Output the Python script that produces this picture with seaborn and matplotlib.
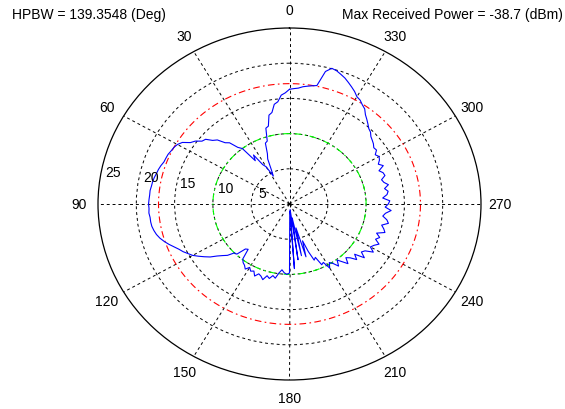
import numpy as np
import matplotlib
matplotlib.use("Agg")
import matplotlib.pyplot as plt
import seaborn as sns

# measured pattern: angle in degrees (counter-clockwise from top), radius in dB
angles = np.arange(0, 360, 2)
radius = [
    16.3, 15.8, 15.5, 14.6, 14.3, 13.2, 12.9, 11.4, 11.2, 9.4,      # 0-18
    9.2, 7.7, 7.0, 5.4, 4.5, 6.1, 6.6, 8.4, 7.6, 10.0,              # 20-38
    10.5, 11.7, 12.1, 13.1, 13.5, 14.3, 14.5, 15.2, 15.6, 16.5,     # 40-58
    16.9, 17.1, 17.2, 17.35, 17.4, 17.45, 17.65, 17.8, 17.9, 18.05,  # 60-78
    18.15, 18.2, 18.3, 18.3, 18.35, 18.4, 18.35, 18.4, 18.3, 18.3,   # 80-98
    18.25, 18.1, 17.9, 17.6, 17.2, 16.75, 16.25, 15.8, 15.45, 15.0,  # 100-118
    14.6, 14.0, 13.4, 12.8, 12.0, 11.4, 10.9, 10.0, 9.9, 8.6,       # 120-138
    8.4, 9.9, 10.3, 10.5, 10.9, 10.4, 10.8, 10.6, 11.2, 10.7,       # 140-158
    10.9, 11.3, 10.6, 10.9, 10.4, 10.7, 9.9, 9.4, 9.8, 10.0,        # 160-178
    9.8, 1.0, 9.2, 0.8, 8.0, 2.0, 7.5, 3.5, 7.8, 5.5,               # 180-198
    7.2, 8.6, 8.3, 9.6, 9.4, 10.5, 9.8, 10.2, 10.9, 10.1,           # 200-218
    10.7, 11.4, 10.6, 11.0, 11.8, 11.1, 12.4, 11.6, 11.9, 12.9,     # 220-238
    12.2, 12.5, 13.0, 12.3, 12.7, 12.1, 13.1, 12.8, 12.4, 13.2,     # 240-258
    12.9, 12.3, 12.6, 13.3, 12.5, 12.9, 13.1, 12.2, 12.8, 13.0,     # 260-278
    12.6, 13.2, 12.7, 12.5, 13.1, 13.0, 12.6, 13.4, 12.9, 13.3,     # 280-298
    13.5, 13.2, 13.7, 13.6, 13.9, 14.1, 14.3, 14.7, 14.9, 15.3,     # 300-318
    15.7, 16.1, 16.7, 17.0, 17.4, 17.6, 18.1, 18.5, 18.9, 19.3,     # 320-338
    19.6, 19.9, 20.05, 19.4, 17.2, 17.05, 16.9, 16.75, 16.5, 16.4,  # 340-358
]

ring_values = [5, 10, 15, 20]
r_max = 25
spoke_angles = [0, 30, 60, 90, 120, 150, 180, 210, 240, 270, 300, 330]
half_power_level = 17.1
ref_level = 10.0

hpbw_text = "HPBW = 139.3548 (Deg)"
power_text = "Max Received Power = -38.7 (dBm)"

sns.set_style("white")
plt.rcParams['font.family'] = ['Liberation Sans', 'DejaVu Sans']
plt.rcParams['font.size'] = 10
plt.rcParams['text.color'] = 'black'

fig = plt.figure(figsize=(5.65, 4.10), dpi=100)
ax = fig.add_axes([98/565, 29/410, 383/565, 352/410], projection='polar')
ax.set_aspect('auto')
ax.set_theta_zero_location('N')
ax.set_theta_direction(1)
ax.set_ylim(0, r_max)

ax.set_xticks(np.deg2rad(spoke_angles))
ax.set_xticklabels([])
ax.set_yticks(ring_values)
ax.set_yticklabels([])
ax.tick_params(length=0)
ax.grid(True, color='black', lw=0.7, linestyle=(0, (3, 3)))
ax.spines['polar'].set_color('black')
ax.spines['polar'].set_linewidth(0.9)

# reference circles (-3 dB and -10 dB)
circle = np.linspace(0, 2*np.pi, 361)
sns.lineplot(x=circle, y=np.full(circle.size, half_power_level), ax=ax,
             color='#FF0000', lw=0.8, linestyle=(0, (6, 3, 1.5, 3)),
             sort=False, estimator=None)
sns.lineplot(x=circle, y=np.full(circle.size, ref_level), ax=ax,
             color='#00FF00', lw=0.8, linestyle=(0, (6, 3, 1.5, 3)),
             sort=False, estimator=None)

# measured pattern
theta = np.deg2rad(np.append(angles, 360))
r = np.array(radius + [radius[0]])
sns.lineplot(x=theta, y=r, ax=ax, color='#0000FF', lw=0.8,
             sort=False, estimator=None)
ax.set_xlabel('')
ax.set_ylabel('')

# angle labels outside the circle
for a in spoke_angles:
    ax.text(np.deg2rad(a), r_max * 1.1, str(a), ha='center', va='center', fontsize=10)

# radial labels, MATLAB style along the upper-left
for rv in ring_values + [r_max]:
    lx = -0.975 * rv + 1.375
    ly = 0.145 * rv + 0.875
    ax.text(np.arctan2(-lx, ly), np.hypot(lx, ly), str(rv),
            ha='center', va='center', fontsize=10)

fig.text(12/565, 1 - 15/410, hpbw_text, ha='left', va='center', fontsize=10)
fig.text(563/565, 1 - 15/410, power_text, ha='right', va='center', fontsize=10)

fig.savefig("out.png", dpi=100)
